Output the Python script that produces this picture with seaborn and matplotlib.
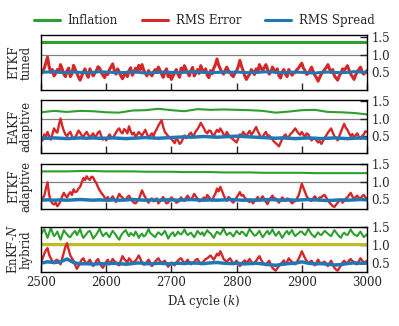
import numpy as np
import pandas as pd
import matplotlib
matplotlib.use("Agg")
import matplotlib.pyplot as plt
import seaborn as sns

# ---------------- data ----------------
K_START, K_END = 2500, 3000

panel_labels = ["ETKF\ntuned", "EAKF\nadaptive", "ETKF\nadaptive", "EnKF-$N$\nhybrid"]

rmse_etkf_tuned = [
    0.45, 0.52, 0.62, 0.78, 0.93, 0.66, 0.50, 0.58, 0.40, 0.47, 0.58, 0.50, 0.72, 0.60, 0.45, 0.38, 0.55, 0.62, 0.38, 0.46,
    0.70, 0.58, 0.48, 0.36, 0.28, 0.40, 0.52, 0.60, 0.45, 0.36, 0.60, 0.50, 0.40, 0.48, 0.55, 0.66, 0.62, 0.50, 0.42, 0.35,
    0.50, 0.44, 0.58, 0.66, 0.74, 0.55, 0.45, 0.60, 0.52, 0.40, 0.32, 0.42, 0.48, 0.38, 0.55, 0.63, 0.42, 0.50, 0.62, 0.52,
    0.70, 0.58, 0.72, 0.56, 0.48, 0.40, 0.55, 0.46, 0.40, 0.50, 0.58, 0.50, 0.65, 0.56, 0.45, 0.36, 0.52, 0.60, 0.38, 0.46,
    0.30, 0.40, 0.50, 0.58, 0.45, 0.36, 0.62, 0.52, 0.69, 0.58, 0.48, 0.40, 0.55, 0.64, 0.40, 0.48, 0.58, 0.47, 0.69, 0.56,
    0.50, 0.60, 0.42, 0.35, 0.55, 0.46, 0.62, 0.72, 0.88, 0.70, 0.60, 0.50, 0.45, 0.56, 0.65, 0.55, 0.50, 0.42, 0.38, 0.48,
    0.55, 0.66, 0.84, 0.68, 0.55, 0.40, 0.30, 0.38, 0.45, 0.58, 0.52, 0.44, 0.60, 0.50, 0.72, 0.62, 0.55, 0.64, 0.72, 0.58,
    0.45, 0.52, 0.65, 0.56, 0.50, 0.60, 0.40, 0.34, 0.52, 0.58, 0.45, 0.38, 0.58, 0.50, 0.42, 0.48, 0.50, 0.58, 0.62, 0.70,
    0.76, 0.62, 0.55, 0.44, 0.48, 0.56, 0.65, 0.52, 0.42, 0.35, 0.25, 0.36, 0.45, 0.52, 0.58, 0.64, 0.72, 0.60, 0.50, 0.58,
    0.40, 0.34, 0.28, 0.40, 0.48, 0.60, 0.55, 0.62, 0.69, 0.56, 0.45, 0.38, 0.30, 0.42, 0.52, 0.58, 0.65, 0.52, 0.45, 0.50,
    0.55]
spread_etkf_tuned = [
    0.50, 0.51, 0.52, 0.50, 0.49, 0.51, 0.50, 0.49, 0.50, 0.52,
    0.51, 0.50, 0.49, 0.50, 0.51, 0.50, 0.48, 0.49, 0.50, 0.51,
    0.50, 0.49, 0.50, 0.52, 0.51, 0.50, 0.49, 0.50, 0.51, 0.50,
    0.51, 0.50, 0.49, 0.50, 0.51, 0.52, 0.50, 0.49, 0.50, 0.51,
    0.50, 0.49, 0.48, 0.50, 0.51, 0.50, 0.49, 0.50, 0.52, 0.51,
    0.50]
infl_etkf_tuned = [1.37, 1.37]

rmse_eakf_adapt = [
    0.45, 0.38, 0.55, 0.48, 0.62, 0.50, 0.40, 0.56, 0.72, 0.64, 0.60, 0.82, 1.00, 0.80, 0.65, 0.55, 0.50, 0.58, 0.62, 0.50,
    0.42, 0.48, 0.55, 0.66, 0.60, 0.52, 0.48, 0.56, 0.62, 0.54, 0.45, 0.52, 0.58, 0.46, 0.52, 0.60, 0.64, 0.50, 0.40, 0.45,
    0.38, 0.46, 0.55, 0.48, 0.45, 0.52, 0.60, 0.68, 0.72, 0.62, 0.58, 0.70, 0.66, 0.58, 0.78, 0.64, 0.55, 0.60, 0.48, 0.55,
    0.62, 0.56, 0.52, 0.60, 0.68, 0.56, 0.45, 0.52, 0.58, 0.50, 0.62, 0.70, 0.80, 0.88, 0.95, 0.76, 0.62, 0.56, 0.50, 0.45,
    0.42, 0.36, 0.30, 0.44, 0.38, 0.28, 0.32, 0.42, 0.52, 0.44, 0.48, 0.56, 0.60, 0.50, 0.55, 0.64, 0.70, 0.78, 0.88, 0.80,
    0.72, 0.62, 0.58, 0.66, 0.65, 0.56, 0.50, 0.60, 0.68, 0.62, 0.72, 0.64, 0.55, 0.50, 0.62, 0.54, 0.48, 0.44, 0.40, 0.36,
    0.32, 0.44, 0.55, 0.50, 0.62, 0.56, 0.50, 0.58, 0.65, 0.54, 0.60, 0.68, 0.76, 0.64, 0.55, 0.46, 0.48, 0.56, 0.62, 0.50,
    0.52, 0.46, 0.40, 0.34, 0.30, 0.26, 0.21, 0.32, 0.42, 0.50, 0.55, 0.46, 0.48, 0.56, 0.60, 0.66, 0.72, 0.64, 0.58, 0.54,
    0.62, 0.54, 0.48, 0.58, 0.55, 0.44, 0.38, 0.42, 0.45, 0.38, 0.32, 0.36, 0.28, 0.36, 0.45, 0.52, 0.60, 0.66, 0.72, 0.60,
    0.50, 0.44, 0.38, 0.50, 0.62, 0.74, 0.85, 0.74, 0.68, 0.58, 0.50, 0.56, 0.45, 0.52, 0.58, 0.48, 0.42, 0.50, 0.55, 0.64,
    0.62]
spread_eakf_adapt = [
    0.44, 0.44, 0.45, 0.44, 0.43, 0.44, 0.45, 0.44, 0.45, 0.44,
    0.44, 0.45, 0.44, 0.43, 0.44, 0.45, 0.46, 0.45, 0.44, 0.45,
    0.46, 0.47, 0.48, 0.47, 0.48, 0.49, 0.48, 0.47, 0.48, 0.49,
    0.50, 0.49, 0.48, 0.47, 0.46, 0.45, 0.44, 0.45, 0.44, 0.43,
    0.44, 0.45, 0.44, 0.43, 0.44, 0.45, 0.44, 0.43, 0.44, 0.45,
    0.44]
infl_eakf_adapt = [
    1.18, 1.22, 1.19, 1.22, 1.21, 1.18, 1.17, 1.23, 1.24, 1.28,
    1.24, 1.21, 1.27, 1.25, 1.26, 1.25, 1.24, 1.22, 1.17, 1.20,
    1.24, 1.25, 1.19, 1.18, 1.16, 1.12]

rmse_etkf_adapt = [
    0.47, 0.52, 0.60, 0.80, 0.98, 0.62, 0.45, 0.38, 0.35, 0.40, 0.30, 0.36, 0.45, 0.58, 0.68, 0.60, 0.55, 0.64, 0.70, 0.62,
    0.78, 0.70, 0.72, 0.80, 0.85, 0.98, 1.10, 1.04, 1.15, 1.08, 1.05, 1.14, 1.12, 1.02, 0.95, 0.84, 0.75, 0.68, 0.62, 0.55,
    0.50, 0.56, 0.45, 0.52, 0.58, 0.48, 0.42, 0.54, 0.65, 0.58, 0.55, 0.46, 0.48, 0.56, 0.60, 0.52, 0.45, 0.40, 0.38, 0.44,
    0.50, 0.62, 0.75, 0.64, 0.55, 0.46, 0.40, 0.48, 0.52, 0.44, 0.45, 0.52, 0.38, 0.44, 0.50, 0.56, 0.45, 0.38, 0.40, 0.48,
    0.55, 0.50, 0.48, 0.40, 0.42, 0.50, 0.55, 0.48, 0.45, 0.54, 0.60, 0.52, 0.48, 0.56, 0.65, 0.58, 0.52, 0.44, 0.45, 0.50,
    0.55, 0.48, 0.62, 0.56, 0.50, 0.45, 0.58, 0.66, 0.80, 0.72, 0.85, 0.74, 0.62, 0.52, 0.45, 0.56, 0.52, 0.44, 0.40, 0.48,
    0.55, 0.62, 0.70, 0.60, 0.62, 0.54, 0.50, 0.44, 0.42, 0.48, 0.38, 0.44, 0.50, 0.56, 0.45, 0.52, 0.58, 0.50, 0.42, 0.36,
    0.48, 0.54, 0.60, 0.52, 0.52, 0.46, 0.40, 0.48, 0.55, 0.50, 0.45, 0.52, 0.50, 0.44, 0.38, 0.42, 0.45, 0.52, 0.60, 0.76,
    0.94, 0.82, 0.70, 0.58, 0.52, 0.46, 0.45, 0.52, 0.58, 0.52, 0.48, 0.55, 0.55, 0.60, 0.62, 0.54, 0.48, 0.40, 0.35, 0.30,
    0.28, 0.34, 0.40, 0.46, 0.48, 0.40, 0.45, 0.52, 0.55, 0.62, 0.68, 0.58, 0.50, 0.56, 0.60, 0.54, 0.52, 0.58, 0.62, 0.56,
    0.50]
spread_etkf_adapt = [
    0.47, 0.48, 0.47, 0.48, 0.47, 0.48, 0.49, 0.48, 0.47, 0.48,
    0.47, 0.48, 0.47, 0.48, 0.49, 0.48, 0.47, 0.48, 0.47, 0.48,
    0.48, 0.47, 0.48, 0.49, 0.48, 0.47, 0.48, 0.47, 0.48, 0.49,
    0.48, 0.47, 0.48, 0.47, 0.48, 0.49, 0.48, 0.47, 0.48, 0.47,
    0.48, 0.49, 0.48, 0.47, 0.46, 0.47, 0.48, 0.47, 0.48, 0.49,
    0.48]
infl_etkf_adapt = [
    1.29, 1.29, 1.29, 1.30, 1.30, 1.29, 1.29, 1.29, 1.28, 1.28,
    1.28, 1.27, 1.27, 1.27, 1.26, 1.26, 1.26, 1.25, 1.25, 1.25,
    1.25, 1.24, 1.24, 1.24, 1.24, 1.24]

rmse_enkfn_hybrid = [
    0.50, 0.62, 0.75, 0.85, 0.91, 0.72, 0.62, 0.54, 0.48, 0.56, 0.58, 0.50, 0.45, 0.62, 0.80, 0.95, 1.05, 0.86, 0.70, 0.62,
    0.55, 0.42, 0.32, 0.40, 0.50, 0.58, 0.62, 0.52, 0.45, 0.52, 0.58, 0.48, 0.40, 0.46, 0.55, 0.60, 0.48, 0.40, 0.35, 0.44,
    0.52, 0.58, 0.45, 0.52, 0.60, 0.54, 0.50, 0.44, 0.42, 0.56, 0.68, 0.60, 0.55, 0.50, 0.62, 0.56, 0.48, 0.52, 0.55, 0.62,
    0.70, 0.60, 0.50, 0.44, 0.45, 0.52, 0.58, 0.50, 0.40, 0.46, 0.52, 0.58, 0.62, 0.54, 0.48, 0.52, 0.55, 0.46, 0.38, 0.44,
    0.50, 0.46, 0.42, 0.50, 0.55, 0.60, 0.62, 0.54, 0.48, 0.52, 0.58, 0.50, 0.45, 0.48, 0.52, 0.58, 0.60, 0.52, 0.45, 0.50,
    0.55, 0.60, 0.62, 0.66, 0.70, 0.64, 0.58, 0.66, 0.75, 0.70, 0.82, 0.72, 0.60, 0.56, 0.52, 0.58, 0.62, 0.54, 0.45, 0.50,
    0.55, 0.48, 0.40, 0.46, 0.52, 0.56, 0.48, 0.54, 0.60, 0.52, 0.45, 0.50, 0.55, 0.62, 0.68, 0.58, 0.50, 0.46, 0.42, 0.50,
    0.55, 0.44, 0.35, 0.30, 0.27, 0.34, 0.40, 0.46, 0.50, 0.56, 0.45, 0.52, 0.62, 0.56, 0.52, 0.48, 0.45, 0.52, 0.60, 0.70,
    0.82, 0.72, 0.62, 0.54, 0.48, 0.52, 0.55, 0.48, 0.42, 0.50, 0.58, 0.50, 0.45, 0.50, 0.52, 0.46, 0.40, 0.48, 0.55, 0.44,
    0.35, 0.30, 0.27, 0.34, 0.42, 0.50, 0.55, 0.50, 0.48, 0.56, 0.60, 0.54, 0.52, 0.46, 0.45, 0.54, 0.62, 0.56, 0.50, 0.52,
    0.55]
spread_enkfn_hybrid = [
    0.48, 0.52, 0.50, 0.52, 0.60, 0.50, 0.46, 0.47, 0.45, 0.47,
    0.46, 0.48, 0.47, 0.45, 0.47, 0.49, 0.47, 0.46, 0.48, 0.47,
    0.46, 0.48, 0.47, 0.49, 0.48, 0.47, 0.49, 0.50, 0.48, 0.47,
    0.48, 0.46, 0.47, 0.48, 0.46, 0.44, 0.42, 0.45, 0.47, 0.48,
    0.52, 0.48, 0.46, 0.47, 0.45, 0.43, 0.44, 0.47, 0.49, 0.48,
    0.48]
infl_enkfn_hybrid = [
    1.30, 1.38, 1.45, 1.32, 1.20, 1.34, 1.48, 1.36, 1.25, 1.30, 1.38, 1.26, 1.15, 1.28, 1.42, 1.35, 1.30, 1.24, 1.22, 1.30,
    1.35, 1.40, 1.28, 1.36, 1.45, 1.30, 1.20, 1.26, 1.32, 1.38, 1.40, 1.30, 1.18, 1.24, 1.30, 1.38, 1.46, 1.34, 1.25, 1.30,
    1.35, 1.28, 1.22, 1.32, 1.40, 1.34, 1.28, 1.20, 1.15, 1.26, 1.33, 1.38, 1.42, 1.32, 1.25, 1.34, 1.30, 1.26, 1.38, 1.30,
    1.20, 1.28, 1.32, 1.24, 1.27, 1.36, 1.45, 1.34, 1.30, 1.26, 1.22, 1.30, 1.36, 1.32, 1.28, 1.34, 1.40, 1.30, 1.18, 1.26,
    1.32, 1.36, 1.25, 1.30, 1.38, 1.32, 1.30, 1.36, 1.44, 1.34, 1.28, 1.32, 1.35, 1.28, 1.22, 1.30, 1.40, 1.34, 1.30, 1.36,
    1.26, 1.34, 1.42, 1.36, 1.33, 1.26, 1.20, 1.30, 1.38, 1.34, 1.30, 1.38, 1.47, 1.36, 1.28, 1.32, 1.35, 1.30, 1.24, 1.32,
    1.40, 1.34, 1.30, 1.38, 1.36, 1.30, 1.25, 1.36, 1.45, 1.38, 1.32, 1.26, 1.28, 1.34, 1.40, 1.30, 1.22, 1.28, 1.35, 1.40,
    1.30, 1.36, 1.44, 1.34, 1.26, 1.32, 1.38, 1.28, 1.20, 1.28, 1.35, 1.40, 1.30, 1.36, 1.42, 1.32, 1.25, 1.30, 1.33, 1.38,
    1.38, 1.32, 1.28, 1.36, 1.46, 1.38, 1.30, 1.26, 1.22, 1.30, 1.36, 1.30, 1.28, 1.34, 1.40, 1.36, 1.32, 1.28, 1.25, 1.34,
    1.42, 1.36, 1.30, 1.24, 1.20, 1.30, 1.35, 1.30, 1.28, 1.36, 1.44, 1.36, 1.30, 1.28, 1.25, 1.32, 1.38, 1.30, 1.22, 1.26,
    1.30]
infl2_enkfn_hybrid = [1.03, 1.03]

yticks = [0.5, 1.0, 1.5]
xticks = [2500, 2600, 2700, 2800, 2900, 3000]


def kgrid(series):
    return np.linspace(K_START, K_END, len(series))


# ---------------- style ----------------
sns.set_style("ticks")
plt.rcParams["font.family"] = ["DejaVu Serif"]
plt.rcParams["mathtext.fontset"] = "dejavuserif"
FS = 8.5
plt.rcParams["font.size"] = FS

C_INF, C_ERR, C_SPR, C_INF2 = "#2ca02c", "#d62728", "#1f77b4", "#bcbd22"

fig = plt.figure(figsize=(3.99, 3.26), dpi=100)
W, H = 399.0, 326.0
boxes = [(35, 90), (100, 153), (164, 209), (227, 272)]
ylims = [(0.0, 1.56), (0.02, 1.53), (0.22, 1.50), (0.23, 1.51)]

panels = [
    (rmse_etkf_tuned, spread_etkf_tuned, infl_etkf_tuned, None),
    (rmse_eakf_adapt, spread_eakf_adapt, infl_eakf_adapt, None),
    (rmse_etkf_adapt, spread_etkf_adapt, infl_etkf_adapt, None),
    (rmse_enkfn_hybrid, spread_enkfn_hybrid, infl_enkfn_hybrid, infl2_enkfn_hybrid),
]

axes = []
for i, ((top, bot), (err, spr, inf, inf2)) in enumerate(zip(boxes, panels)):
    ax = fig.add_axes([41 / W, 1 - bot / H, 326 / W, (bot - top) / H])
    axes.append(ax)
    ax.axhline(1.0, color="#808080", lw=0.9, zorder=0.5)
    sns.lineplot(x=kgrid(inf), y=inf, ax=ax, color=C_INF, lw=1.5, label="Inflation")
    if inf2 is not None:
        sns.lineplot(x=kgrid(inf2), y=inf2, ax=ax, color=C_INF2, lw=2.2)
    sns.lineplot(x=kgrid(err), y=err, ax=ax, color=C_ERR, lw=1.7, label="RMS Error")
    sns.lineplot(x=kgrid(spr), y=spr, ax=ax, color=C_SPR, lw=2.5, label="RMS Spread")
    ax.get_legend().remove()
    ax.set_xlim(K_START, K_END)
    ax.set_ylim(*ylims[i])
    ax.set_yticks(yticks)
    ax.set_yticklabels(["0.5", "1.0", "1.5"])
    ax.set_xticks(xticks)
    ax.yaxis.tick_right()
    ax.yaxis.set_label_position("left")
    ax.tick_params(axis="both", direction="in", length=5, width=1.0, labelsize=FS, pad=3)
    ax.tick_params(axis="x", top=False)
    ax.tick_params(axis="y", left=False)
    for s in ax.spines.values():
        s.set_linewidth(1.0)
        s.set_color("black")
    ax.set_ylabel(panel_labels[i], fontsize=FS, labelpad=6, linespacing=0.95)
    if i < 3:
        ax.set_xticklabels([])
        ax.set_xlabel("")
    else:
        ax.set_xlabel("DA cycle ($k$)", fontsize=FS, labelpad=3)

h, l = axes[0].get_legend_handles_labels()
for hh in h:
    hh.set_linewidth(2.2)
fig.legend(h, l, loc="center", bbox_to_anchor=(0.512, 0.936), ncol=3, frameon=False,
           fontsize=FS, handlelength=2.2, handletextpad=0.7, columnspacing=2.0)

fig.savefig("out.png", dpi=100)
